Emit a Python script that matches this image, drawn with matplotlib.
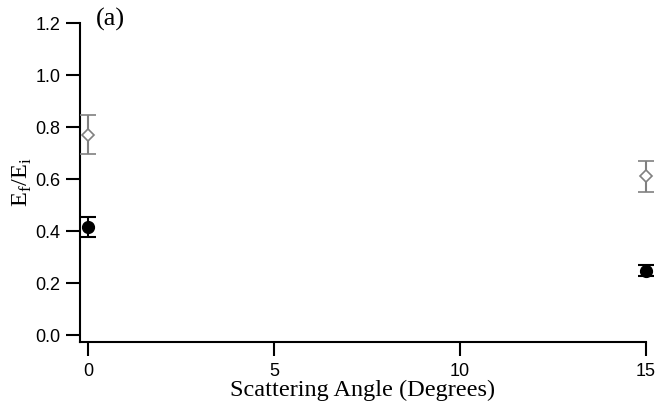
import numpy as np
import matplotlib.pyplot as plt

# values
angle = [0, 15]
ratio_open = [0.771, 0.611]
err_open = [0.076, 0.060]
ratio_filled = [0.416, 0.248]
err_filled = [0.039, 0.022]

yticks = [0.0, 0.2, 0.4, 0.6, 0.8, 1.0, 1.2]
xticks = [0, 5, 10, 15]

fig = plt.figure(figsize=(6.55, 4.04), dpi=100)
ax = fig.add_axes([0.122, 0.153, 0.864, 0.790])

eb_open = ax.errorbar(angle, ratio_open, yerr=err_open, fmt='D', ms=6.5, mfc='white',
                      mec='#808080', mew=1.2, ecolor='#808080', elinewidth=1.5,
                      capsize=6, capthick=1.5, zorder=3)
eb_filled = ax.errorbar(angle, ratio_filled, yerr=err_filled, fmt='o', ms=8.5,
                        color='black', ecolor='black', elinewidth=1.5, capsize=6,
                        capthick=1.5, zorder=3)

# points sit on the right edge, don't let them get cut
for eb in (eb_open, eb_filled):
    for art in eb.get_children():
        art.set_clip_on(False)

ax.set_xlim(-0.215, 15)
ax.set_ylim(-0.027, 1.2)
ax.set_xticks(xticks)
ax.set_yticks(yticks)
ax.set_yticklabels([f"{v:.1f}" for v in yticks])

for side in ['top', 'right']:
    ax.spines[side].set_visible(False)
for side in ['left', 'bottom']:
    ax.spines[side].set_linewidth(1.5)

ax.tick_params(direction='out', length=10, width=1.5, labelsize=13, pad=4)
ax.tick_params(axis='x', pad=5)
for lab in ax.get_xticklabels() + ax.get_yticklabels():
    lab.set_fontfamily('Liberation Sans')

ax.set_xlabel('Scattering Angle (Degrees)', fontfamily='Liberation Serif',
              fontsize=17.5, labelpad=0)
ax.set_ylabel(r'E$_\mathregular{f}$/E$_\mathregular{i}$', fontfamily='Liberation Serif',
              fontsize=17.5, labelpad=1)
fig.text(0.147, 0.952, '(a)', fontfamily='Liberation Serif', fontsize=19,
         va='center', ha='left')

fig.savefig('out.png', dpi=100)
